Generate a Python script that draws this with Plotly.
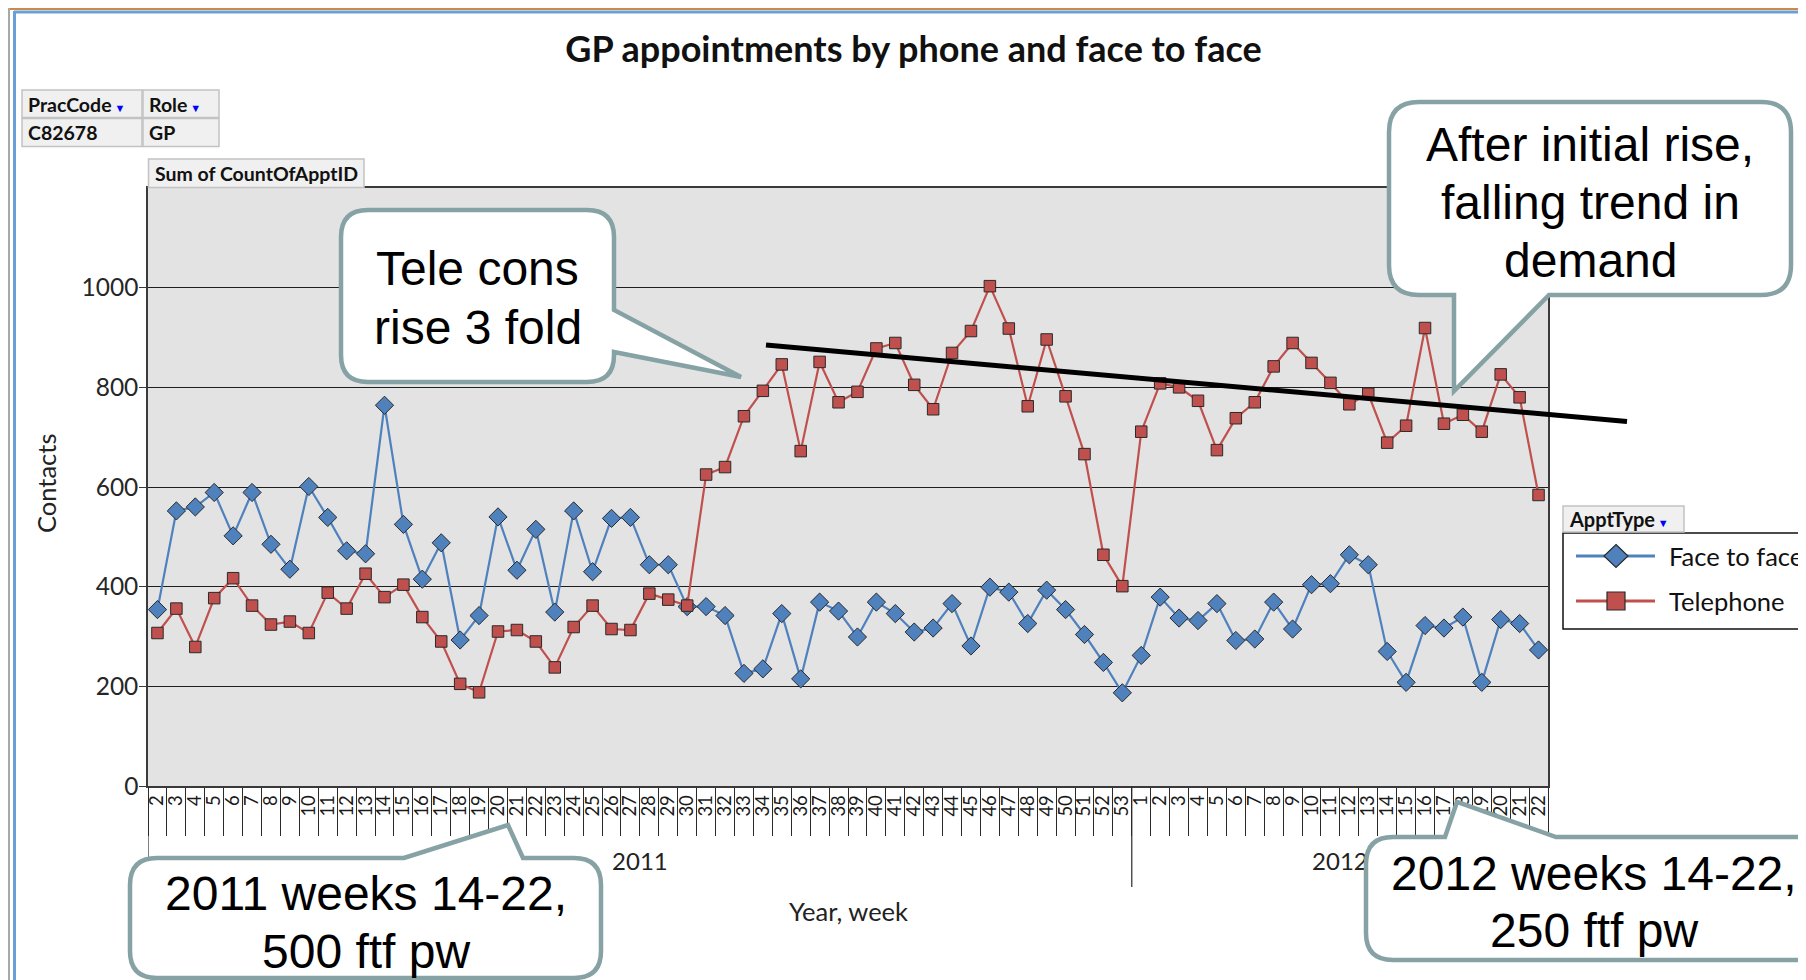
import plotly.graph_objects as go

# ---------------- data ----------------
weeks_2011 = [2, 3, 4, 5, 6, 7, 8, 9, 10, 11, 12, 13, 14, 15, 16, 17, 18, 19, 20, 21,
              22, 23, 24, 25, 26, 27, 28, 29, 30, 31, 32, 33, 34, 35, 36, 37, 38, 39, 40, 41,
              42, 43, 44, 45, 46, 47, 48, 49, 50, 51, 52, 53]
weeks_2012 = [1, 2, 3, 4, 5, 6, 7, 8, 9, 10, 11, 12, 13, 14, 15, 16, 17, 18, 19, 20, 21, 22]
year_labels = ["2011", "2012"]

face_to_face = [354, 552, 560, 589, 502, 589, 485, 435, 601, 539, 472, 466, 764, 525, 415, 488,
                293, 342, 540, 433, 515, 349, 552, 430, 537, 539, 444, 444, 360, 360, 342, 226,
                235, 346, 215, 369, 351, 299, 369, 346, 309, 317, 366, 281, 399, 389, 326, 393,
                354, 304, 248, 187,
                262, 379, 337, 332, 366, 292, 295, 369, 315, 404, 406, 464, 444, 270, 208, 322,
                317, 339, 208, 334, 326, 273]
telephone = [307, 356, 279, 377, 417, 362, 324, 330, 307, 388, 356, 426, 379, 404, 339, 290,
             205, 188, 310, 313, 290, 238, 319, 362, 315, 313, 386, 374, 362, 625, 640, 742,
             793, 846, 672, 851, 770, 791, 878, 889, 805, 756, 869, 913, 1003, 918, 762, 896,
             782, 666, 464, 401,
             711, 808, 800, 773, 674, 738, 770, 842, 889, 849, 809, 766, 787, 689, 723, 919,
             727, 745, 711, 826, 780, 584]

series_names = ["Face to face", "Telephone"]
y_ticks = [0, 200, 400, 600, 800, 1000]

week_labels = [str(w) for w in weeks_2011 + weeks_2012]
idx = list(range(len(week_labels)))
n2011 = len(weeks_2011)
year_centers = [(n2011 - 1) / 2, n2011 + (len(weeks_2012) - 1) / 2]
year_boundary = n2011 - 0.5

# ---------------- geometry helpers ----------------
# the page body has an 8px margin, so the figure starts at (8, 8) of the window
OFF = 8
W, H = 1806 - OFF, 980 - OFF
ML, MR, MT, MB = 140, 258, 180, 194
PW = W - ML - MR
PH = H - MT - MB


def px_x(px):
    return (px - OFF - ML) / PW


def px_y(py):
    return (H - MB - (py - OFF)) / PH


def pth(cmds):
    out = []
    for cmd in cmds:
        if cmd[0] == "Z":
            out.append("Z")
            continue
        pts = cmd[1:]
        coords = " ".join(f"{px_x(pts[i]):.5f},{px_y(pts[i + 1]):.5f}" for i in range(0, len(pts), 2))
        out.append(f"{cmd[0]}{coords}")
    return " ".join(out)


def callout_path(x0, y0, x1, y1, r, side, a, b, tx, ty):
    c = [("M", x0 + r, y0)]
    if side == "top":
        c += [("L", a, y0), ("L", tx, ty), ("L", b, y0)]
    c += [("L", x1 - r, y0), ("Q", x1, y0, x1, y0 + r)]
    if side == "right":
        c += [("L", x1, a), ("L", tx, ty), ("L", x1, b)]
    c += [("L", x1, y1 - r), ("Q", x1, y1, x1 - r, y1)]
    if side == "bottom":
        c += [("L", b, y1), ("L", tx, ty), ("L", a, y1)]
    c += [("L", x0 + r, y1), ("Q", x0, y1, x0, y1 - r), ("L", x0, y0 + r), ("Q", x0, y0, x0 + r, y0), ("Z",)]
    return pth(c)


BLUE = "#4f81bd"
RED = "#c0504d"
CALL_BORDER = "#86a2a5"
FONT = "Lato, 'Liberation Sans', sans-serif"
ARIAL = "'Liberation Sans', Arial, sans-serif"

fig = go.Figure()
fig.add_trace(go.Scatter(
    x=idx, y=face_to_face, mode="lines+markers", name=series_names[0], showlegend=False,
    line=dict(color=BLUE, width=2.2),
    marker=dict(symbol="diamond", size=14, color=BLUE, line=dict(color="#2a2a2a", width=1)),
))
fig.add_trace(go.Scatter(
    x=idx, y=telephone, mode="lines+markers", name=series_names[1], showlegend=False,
    line=dict(color=RED, width=2.2),
    marker=dict(symbol="square", size=11.5, color=RED, line=dict(color="#2a2a2a", width=1)),
))
# empty trace that activates the overlay axis carrying the year labels
fig.add_trace(go.Scatter(x=[], y=[], xaxis="x2", showlegend=False))

shapes = []


def rect(x0, y0, x1, y1, fill, line, lw=1.0):
    shapes.append(dict(type="rect", xref="paper", yref="paper",
                       x0=px_x(x0), x1=px_x(x1), y0=px_y(y0), y1=px_y(y1),
                       fillcolor=fill, line=dict(color=line, width=lw), layer="above"))


def seg(x0, y0, x1, y1, color, width):
    shapes.append(dict(type="line", xref="paper", yref="paper",
                       x0=px_x(x0), x1=px_x(x1), y0=px_y(y0), y1=px_y(y1),
                       line=dict(color=color, width=width), layer="above"))


# outer frame
seg(8, 9, 1806, 9, "#c98a4b", 2)
seg(9, 8, 9, 980, "#a8a8a8", 2)
seg(14, 12, 1806, 12, "#6c9fd6", 3)
seg(14.5, 11, 14.5, 980, "#6c9fd6", 3)

# category-level divider lines extending below the axis
for xb, bottom in [(-0.5, 887), (year_boundary, 887)]:
    shapes.append(dict(type="line", xref="x", yref="paper", x0=xb, x1=xb,
                       y0=0, y1=px_y(bottom), line=dict(color="#2a2a2a", width=1.2), layer="above"))

# pivot field buttons
BTN_FILL, BTN_LINE = "#f0f0f0", "#c2c2c2"
rect(22, 90, 142, 117.5, BTN_FILL, BTN_LINE, 1.5)
rect(143, 90, 219, 117.5, BTN_FILL, BTN_LINE, 1.5)
rect(22, 118.5, 142, 146.5, BTN_FILL, BTN_LINE, 1.5)
rect(143, 118.5, 219, 146.5, BTN_FILL, BTN_LINE, 1.5)
rect(148.5, 159, 364, 187.5, BTN_FILL, BTN_LINE, 1.5)

# legend
rect(1563, 533, 1802, 629, "white", "#111111", 1.5)
rect(1563, 506, 1684, 532, BTN_FILL, BTN_LINE, 1.5)
seg(1576, 556, 1655, 556, BLUE, 3)
seg(1576, 601, 1655, 601, RED, 3)
shapes.append(dict(type="path", xref="paper", yref="paper", layer="above",
                   path=pth([("M", 1616, 544.5), ("L", 1628, 556), ("L", 1616, 567.5), ("L", 1604, 556), ("Z",)]),
                   fillcolor=BLUE, line=dict(color="#2a2a2a", width=1.2)))
rect(1607, 592, 1625, 610, RED, "#2a2a2a", 1.2)

# trend line (hand-drawn annotation)
seg(766, 345, 1627, 421.5, "black", 5)

# callouts
callouts = [
    (341, 210, 614, 382, 27, "right", 310, 352, 741, 377),
    (1389, 102, 1791, 295, 30, "bottom", 1454, 1549, 1454, 391),
    (130, 858, 601, 978, 27, "top", 404, 523, 508, 825),
    (1366, 837, 1822, 960, 27, "top", 1445, 1556, 1457, 802),
]
for c in callouts:
    shapes.append(dict(type="path", xref="paper", yref="paper", layer="above",
                       path=callout_path(*c), fillcolor="white",
                       line=dict(color=CALL_BORDER, width=4.5)))

annotations = []


def text(px, py, s, size, family=FONT, color="#111111", xanchor="center", angle=0, bold=False):
    annotations.append(dict(xref="paper", yref="paper", x=px_x(px), y=px_y(py),
                            text=(f"<b>{s}</b>" if bold else s),
                            showarrow=False, xanchor=xanchor, yanchor="middle", textangle=angle,
                            font=dict(family=family, size=size, color=color)))


ARROW = '<span style="color:#0000ff;font-size:11px"> ▼</span>'
text(26, 104, "<b>PracCode</b>" + ARROW, 19.5, xanchor="left")
text(147, 104, "<b>Role</b>" + ARROW, 19.5, xanchor="left")
text(26, 132.5, "C82678", 19.5, xanchor="left", bold=True)
text(147, 132.5, "GP", 19.5, xanchor="left", bold=True)
text(153, 173.5, "Sum of CountOfApptID", 19.5, xanchor="left", bold=True)
text(1567, 519, "<b>ApptType</b>" + ARROW, 20, xanchor="left")
text(1667, 556, series_names[0], 25.5, xanchor="left")
text(1667, 601, series_names[1], 25.5, xanchor="left")

text(46, 484, "Contacts", 25.5, color="#222222", angle=-90)
text(848, 911, "Year, week", 25.5, color="#222222")

# callout texts, one annotation per line
callout_lines = [
    (477.5, [(268.5, "Tele cons"), (327, "rise 3 fold")]),
    (1590, [(144, "After initial rise,"), (202.5, "falling trend in"), (260, "demand")]),
    (365.5, [(894, "2011 weeks 14-22,"), (951.5, "500 ftf pw")]),
    (1594, [(873, "2012 weeks 14-22,"), (930.5, "250 ftf pw")]),
]
for cx, lines in callout_lines:
    for cy, s in lines:
        text(cx, cy, s, 48, family=ARIAL, color="black")

fig.update_layout(
    width=W, height=H,
    margin=dict(l=ML, r=MR, t=MT, b=MB, pad=0),
    paper_bgcolor="white",
    plot_bgcolor="#e3e3e3",
    showlegend=False,
    title=dict(text="<b>GP appointments by phone and face to face</b>",
               x=(913.5 - OFF) / W, xref="container", xanchor="center",
               y=1 - (49.5 - OFF) / H, yref="container", yanchor="middle",
               font=dict(family=FONT, size=36, color="#111111")),
    xaxis=dict(
        range=[-0.5, len(idx) - 0.5], tickmode="array", tickvals=idx, ticktext=week_labels,
        tickangle=-90, ticks="", showgrid=False, zeroline=False,
        showline=True, linecolor="#3a3a3a", linewidth=1.5, mirror=True,
        tickfont=dict(family=FONT, size=18.5, color="#1a1a1a"),
        minor=dict(tickmode="linear", tick0=0.5, dtick=1, ticks="outside", ticklen=48,
                   tickcolor="#2a2a2a", tickwidth=1.2),
        automargin=False, fixedrange=True,
    ),
    xaxis2=dict(
        overlaying="x", matches="x", side="bottom", anchor="y",
        tickmode="array", tickvals=year_centers, ticktext=year_labels,
        ticks="", showgrid=False, zeroline=False, showline=False,
        tickfont=dict(family=FONT, size=24, color="#222222"),
        ticklabelstandoff=59, automargin=False,
    ),
    yaxis=dict(
        range=[0, 1200], tickmode="array", tickvals=y_ticks,
        ticks="outside", ticklen=7, tickcolor="#3a3a3a", tickwidth=1.2,
        showgrid=True, gridcolor="#1e1e1e", gridwidth=1.2, zeroline=False,
        showline=True, linecolor="#3a3a3a", linewidth=1.5, mirror=True,
        tickfont=dict(family=FONT, size=24.5, color="#262626"),
        ticklabelstandoff=-4,
        automargin=False, fixedrange=True,
    ),
    shapes=shapes,
    annotations=annotations,
)

fig.write_html("out.html")
